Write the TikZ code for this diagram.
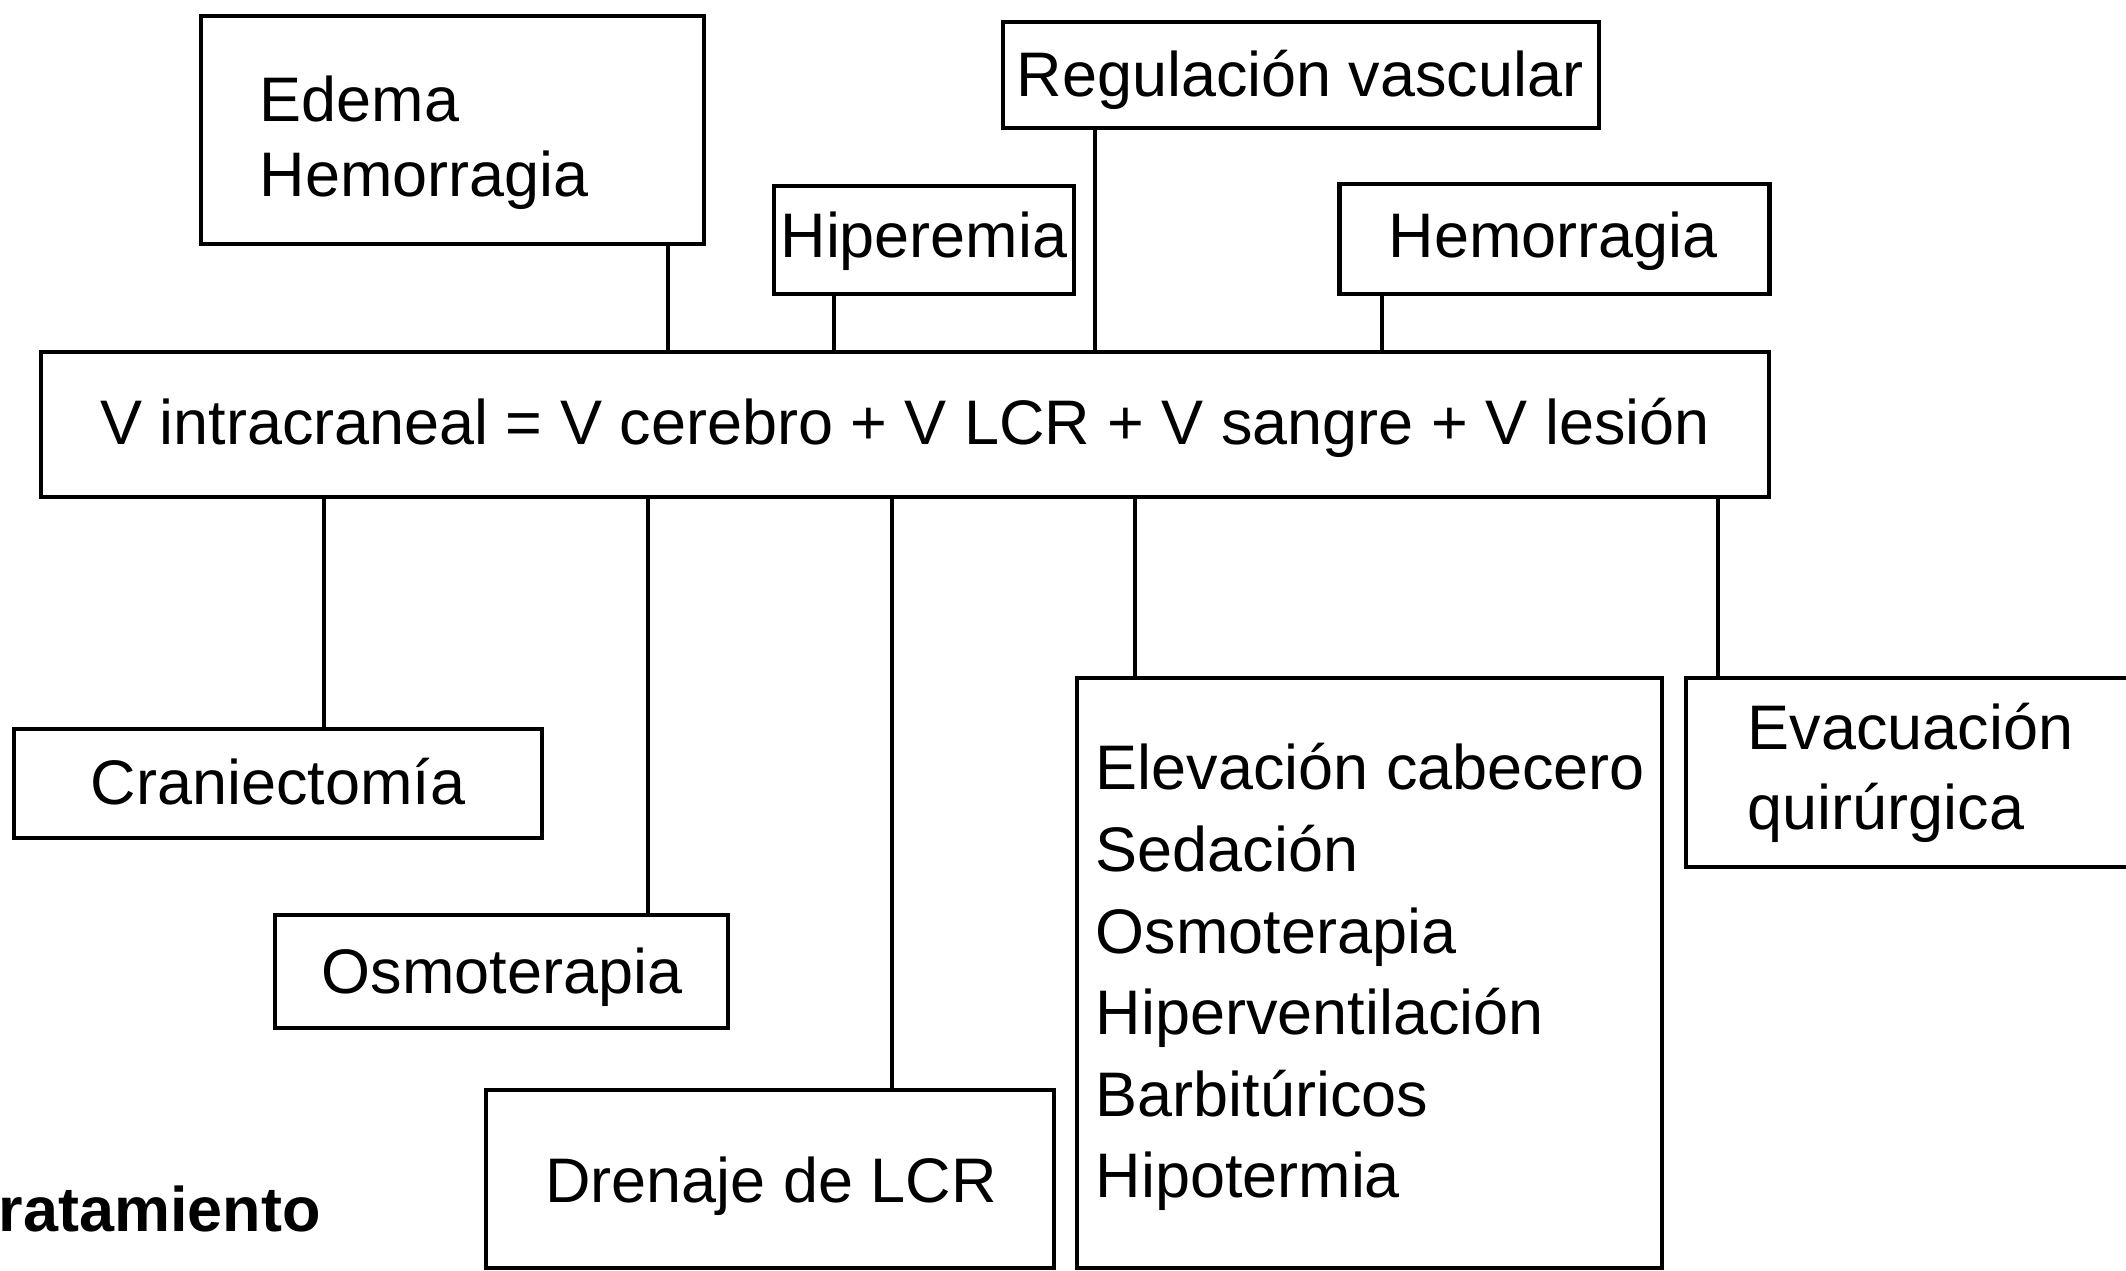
\documentclass[tikz,border=0pt]{standalone}
\usepackage{fontspec}
\setmainfont{Liberation Sans}
\begin{document}
\begin{tikzpicture}[x=0.01cm,y=-0.01cm,
  boxsty/.style={draw=black, line width=1.3pt, rectangle, inner sep=0pt, fill=white},
  txt/.style={inner sep=0pt, font=\fontsize{17.9pt}{21pt}\selectfont},
  conn/.style={draw=black, line width=0.95pt}]
\useasboundingbox (0,0) rectangle (2126,1271);
\clip (0,0) rectangle (2126,1271);
\fill[white] (0,0) rectangle (2126,1271);
% boxes
\node[boxsty, minimum width=503*0.01cm, minimum height=228*0.01cm] (edema) at (452.5,130) {};
\node[boxsty, minimum width=300*0.01cm, minimum height=108*0.01cm] (hiper) at (924,240) {};
\node[boxsty, minimum width=596*0.01cm, minimum height=106*0.01cm] (regul) at (1301,75) {};
\node[boxsty, minimum width=430*0.01cm, minimum height=110*0.01cm] (hemo) at (1554.5,239) {};
\node[boxsty, minimum width=1728*0.01cm, minimum height=145*0.01cm] (main) at (905,424.5) {};
\node[boxsty, minimum width=528*0.01cm, minimum height=109*0.01cm] (cran) at (278,783.5) {};
\node[boxsty, minimum width=453*0.01cm, minimum height=113*0.01cm] (osmo) at (501.5,971.5) {};
\node[boxsty, minimum width=568*0.01cm, minimum height=178*0.01cm] (dren) at (770,1179) {};
\node[boxsty, minimum width=585*0.01cm, minimum height=590*0.01cm] (list) at (1369.5,973) {};
\node[boxsty, minimum width=464*0.01cm, minimum height=189*0.01cm] (evac) at (1918,772.5) {};
% connector x positions
\coordinate (xa) at (668,0);
\coordinate (xb) at (834,0);
\coordinate (xc) at (1095,0);
\coordinate (xd) at (1382,0);
\coordinate (xe) at (324,0);
\coordinate (xf) at (648,0);
\coordinate (xg) at (892,0);
\coordinate (xh) at (1135,0);
\coordinate (xi) at (1718,0);
% connectors
\draw[conn] (edema.south -| xa) -- (main.north -| xa);
\draw[conn] (hiper.south -| xb) -- (main.north -| xb);
\draw[conn] (regul.south -| xc) -- (main.north -| xc);
\draw[conn] (hemo.south -| xd) -- (main.north -| xd);
\draw[conn] (main.south -| xe) -- (cran.north -| xe);
\draw[conn] (main.south -| xf) -- (osmo.north -| xf);
\draw[conn] (main.south -| xg) -- (dren.north -| xg);
\draw[conn] (main.south -| xh) -- (list.north -| xh);
\draw[conn] (main.south -| xi) -- (evac.north -| xi);
% texts
\node[txt, anchor=base west] (t1) at (259,122) {Edema};
\node[txt, anchor=base west] (t2) at (259,197) {Hemorragia};
\node[txt, anchor=base] (t3) at (924,258) {Hiperemia};
\node[txt, anchor=base] (t4) at (1300,97) {Regulación vascular};
\node[txt, anchor=base] (t5) at (1553,258) {Hemorragia};
\node[txt, anchor=base] (t6) at (905,445) {V intracraneal = V cerebro + V LCR + V sangre + V lesión};
\node[txt, anchor=base] (t7) at (278,805) {Craniectomía};
\node[txt, anchor=base] (t8) at (502,994) {Osmoterapia};
\node[txt, anchor=base] (t9) at (771,1203) {Drenaje de LCR};
\node[txt, anchor=base west] (l1) at (1095,790) {Elevación cabecero};
\node[txt, anchor=base west] (l2) at (1095,871.6) {Sedación};
\node[txt, anchor=base west] (l3) at (1095,953.2) {Osmoterapia};
\node[txt, anchor=base west] (l4) at (1095,1034.8) {Hiperventilación};
\node[txt, anchor=base west] (l5) at (1095,1116.4) {Barbitúricos};
\node[txt, anchor=base west] (l6) at (1095,1198) {Hipotermia};
\node[txt, anchor=base west] (e1) at (1747,750) {Evacuación};
\node[txt, anchor=base west] (e2) at (1747,830) {quirúrgica};
\node[txt, anchor=base west, font=\fontsize{17.9pt}{21pt}\selectfont\bfseries] (tr) at (-2,1232) {ratamiento};
\end{tikzpicture}
\end{document}
